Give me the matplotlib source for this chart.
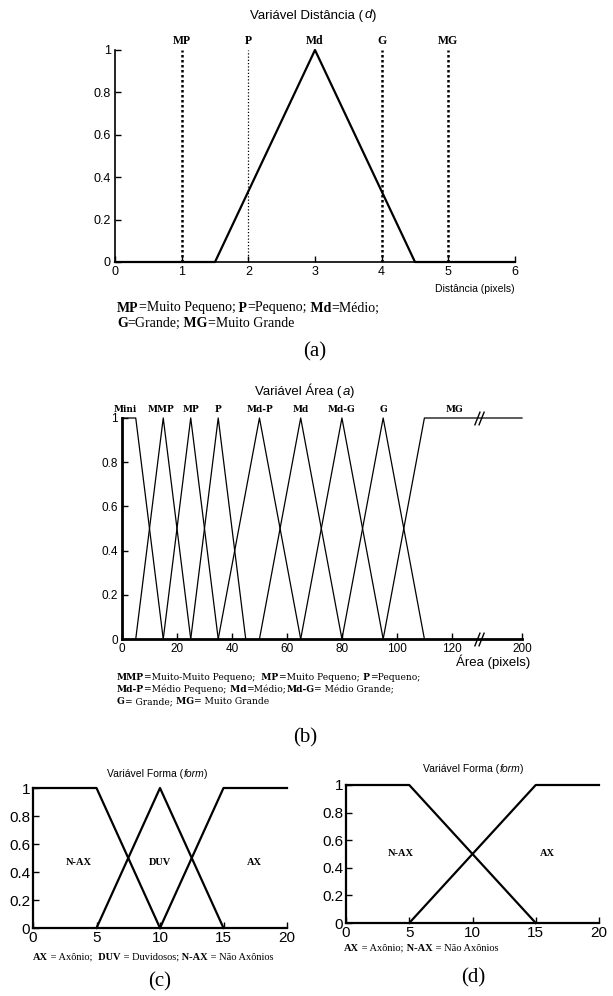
import numpy as np
import matplotlib
matplotlib.use('Agg')
import matplotlib.pyplot as plt
from matplotlib.path import Path
from matplotlib.font_manager import FontProperties, findfont
from matplotlib.ft2font import FT2Font

plt.rcParams['font.family'] = ['Liberation Sans', 'DejaVu Sans']

W, H = 613, 996

# (a) variavel distancia
dist_x = [0, 1.5, 3, 4.5, 6]
dist_mu = [0, 0, 1, 0, 0]
dist_nomes = ['MP', 'P', 'Md', 'G', 'MG']
dist_centros = [1, 2, 3, 4, 5]
dist_xticks = [0, 1, 2, 3, 4, 5, 6]

# (b) variavel area
area_nomes = ['Mini', 'MMP', 'MP', 'P', 'Md-P', 'Md', 'Md-G', 'G', 'MG']
area_x = [[0, 5, 15], [5, 15, 25], [15, 25, 35], [25, 35, 45], [35, 50, 65],
          [50, 65, 80], [65, 80, 95], [80, 95, 110], [95, 110, 200]]
area_mu = [[1, 1, 0], [0, 1, 0], [0, 1, 0], [0, 1, 0], [0, 1, 0],
           [0, 1, 0], [0, 1, 0], [0, 1, 0], [0, 1, 1]]
area_rotulo_x = [1, 14, 25, 35, 50, 65, 80, 95, 121]
area_xticks = [0, 20, 40, 60, 80, 100, 120, 200]
area_quebra = 130

# (c) forma com 3 conjuntos, (d) forma com 2 conjuntos
forma3_x = [[0, 5, 10], [5, 10, 15], [10, 15, 20]]
forma3_mu = [[1, 1, 0], [0, 1, 0], [0, 1, 1]]
forma3_nomes = ['N-AX', 'DUV', 'AX']
forma3_rotulo_x = [3.6, 10, 17.4]
forma2_x = [[0, 5, 15], [5, 15, 20]]
forma2_mu = [[1, 1, 0], [0, 1, 1]]
forma2_nomes = ['N-AX', 'AX']
forma2_rotulo_x = [4.3, 15.9]
forma_xticks = [0, 5, 10, 15, 20]

yticks = [0, 0.2, 0.4, 0.6, 0.8, 1]
ytick_labels = ['0', '0.2', '0.4', '0.6', '0.8', '1']


def fx(x):
    return x / W


def fy(y):
    return 1 - y / H


def eixo(fig, l, t, r, b):
    # cria eixos a partir de coordenadas em pixels (esq, topo, dir, base)
    ax = fig.add_axes([fx(l), fy(b), (r - l) / W, (b - t) / H])
    ax.spines['top'].set_visible(False)
    ax.spines['right'].set_visible(False)
    ax.tick_params(direction='in', length=4, width=1, pad=3)
    return ax


def avanco(txt, fp):
    # largura em pixels pelo avanco de cada glifo (inclui espacos)
    f = FT2Font(findfont(fp))
    f.set_size(fp.get_size_in_points(), 100)
    tot = 0.0
    for ch in txt:
        g = f.load_char(ord(ch))
        tot += g.linearHoriAdvance / 65536.0
    return tot


def linha(fig, x, y, partes, ha='left', **kw):
    # partes: lista de (texto, estilo); tudo na mesma linha de base
    ts, larg = [], []
    for txt, est in partes:
        opts = dict(kw)
        opts.update(est)
        t = fig.text(0, fy(y), txt, ha='left', va='baseline', **opts)
        ts.append(t)
        larg.append(avanco(txt, t.get_fontproperties()))
    x0 = x - (sum(larg) / 2 if ha == 'center' else 0)
    for t, w in zip(ts, larg):
        t.set_x(fx(x0))
        x0 += w


B = {'weight': 'bold'}
N = {}
I = {'style': 'italic'}

fig = plt.figure(figsize=(W / 100, H / 100), dpi=100)

# ---------------- (a)
ax = eixo(fig, 115, 50, 515, 262)
ax.plot(dist_x, dist_mu, color='k', lw=1.6, clip_on=False, zorder=3)
for nome, c in zip(dist_nomes, dist_centros):
    if nome == 'P':
        ax.plot([c, c], [0, 1], color='k', ls=(0, (1, 1.6)), lw=0.9)
    elif nome != 'Md':
        ax.plot([c, c], [0, 1], color='k', ls=(0, (1, 1)), lw=1.8)
    ax.annotate(nome, (c, 1), xytext=(0, 4), textcoords='offset points',
                ha='center', va='baseline', family='Liberation Serif',
                weight='bold', fontsize=8.5, annotation_clip=False)
ax.set_xlim(0, 6)
ax.set_ylim(0, 1)
ax.set_xticks(dist_xticks)
ax.set_yticks(yticks)
ax.set_yticklabels(ytick_labels)
ax.tick_params(labelsize=9)
for s in ax.spines.values():
    s.set_linewidth(1.2)
linha(fig, 313, 18.5, [('Variável Distância (', N), ('d', I), (')', N)], ha='center', fontsize=9.5)
fig.text(fx(515), fy(289), 'Distância (pixels)', fontsize=7.5, ha='right', va='center')

# ---------------- (b)
k = (145.5 - area_quebra) / (200 - area_quebra)


def fwd(x):
    x = np.asarray(x, float)
    return np.where(x <= area_quebra, x, area_quebra + (x - area_quebra) * k)


def inv(x):
    x = np.asarray(x, float)
    return np.where(x <= area_quebra, x, area_quebra + (x - area_quebra) / k)


axb = eixo(fig, 122, 418, 522, 639)
axb.set_xscale('function', functions=(fwd, inv))
for xs, ys in zip(area_x, area_mu):
    axb.plot(xs, ys, color='k', lw=0.9, clip_on=False)
for nome, xr in zip(area_nomes, area_rotulo_x):
    axb.annotate(nome, (xr, 1), xytext=(0, 4), textcoords='offset points',
                 ha='center', va='baseline', family='DejaVu Serif',
                 weight='bold', fontsize=6.5, annotation_clip=False)
barra = Path([(-0.7, -1), (0.1, 1), (-0.1, -1), (0.7, 1)],
             [Path.MOVETO, Path.LINETO, Path.MOVETO, Path.LINETO])
axb.plot([area_quebra, area_quebra], [0, 1], ls='none', marker=barra,
         ms=10, mew=1.0, mec='k', clip_on=False, zorder=5)
axb.set_xlim(0, 200)
axb.set_ylim(0, 1)
axb.set_xticks(area_xticks)
axb.set_xticklabels([str(v) for v in area_xticks])
axb.set_yticks(yticks)
axb.set_yticklabels(ytick_labels)
axb.tick_params(labelsize=8.5)
for s in axb.spines.values():
    s.set_linewidth(2)
linha(fig, 305, 394.5, [('Variável Área (', N), ('a', I), (')', N)], ha='center', fontsize=9.5)
fig.text(fx(530), fy(662), 'Área (pixels)', fontsize=9.5, ha='right', va='center')

# ---------------- (c)
axc = eixo(fig, 33, 788, 287, 928)
for xs, ys in zip(forma3_x, forma3_mu):
    axc.plot(xs, ys, color='k', lw=1.6, clip_on=False)
for nome, xr in zip(forma3_nomes, forma3_rotulo_x):
    axc.text(xr, 0.47, nome, ha='center', va='center', family='Liberation Serif',
             weight='bold', fontsize=7.5)

# ---------------- (d)
axd = eixo(fig, 346, 785, 599, 923)
for xs, ys in zip(forma2_x, forma2_mu):
    axd.plot(xs, ys, color='k', lw=1.6, clip_on=False)
for nome, xr in zip(forma2_nomes, forma2_rotulo_x):
    axd.text(xr, 0.5, nome, ha='center', va='center', family='Liberation Serif',
             weight='bold', fontsize=7.5)

for a in (axc, axd):
    a.set_xlim(0, 20)
    a.set_ylim(0, 1)
    a.set_xticks(forma_xticks)
    a.set_yticks(yticks)
    a.set_yticklabels(ytick_labels)
    a.tick_params(labelsize=11, pad=2)
    for s in a.spines.values():
        s.set_linewidth(1.6)

for cx, cy in ((157, 777), (473, 772)):
    linha(fig, cx, cy, [('Variável Forma (', N), ('form', I), (')', N)], ha='center', fontsize=7.5)

# legendas
serif_a = dict(family='Liberation Serif', fontsize=10)
linha(fig, 117, 311.5, [('MP', B), ('=Muito Pequeno;', N), (' P', B), ('=Pequeno;', N),
                        (' Md', B), ('=Médio;', N)], **serif_a)
linha(fig, 117, 326.5, [('G', B), ('=Grande;', N), (' MG', B), ('=Muito Grande', N)], **serif_a)

serif_b = dict(family='DejaVu Serif', fontsize=6.6)
linha(fig, 117, 680, [('MMP', B), ('=Muito-Muito Pequeno;', N), ('  MP', B),
                      ('=Muito Pequeno;', N), (' P', B), ('=Pequeno;', N)], **serif_b)
linha(fig, 117, 692, [('Md-P', B), ('=Médio Pequeno;', N), (' Md', B), ('=Médio;', N),
                      ('Md-G', B), ('= Médio Grande;', N)], **serif_b)
linha(fig, 117, 704, [('G', B), ('= Grande;', N), (' MG', B), ('= Muito Grande', N)], **serif_b)

serif_c = dict(family='Liberation Serif', fontsize=7.5)
linha(fig, 33, 960, [('AX', B), (' = Axônio;', N), ('  DUV', B), (' = Duvidosos;', N),
                     (' N-AX', B), (' = Não Axônios', N)], **serif_c)
linha(fig, 344, 951, [('AX', B), (' = Axônio;', N), (' N-AX', B), (' = Não Axônios', N)],
      **serif_c)

for rot, cx, cy in (('(a)', 315, 352), ('(b)', 305, 738), ('(c)', 160, 982), ('(d)', 473, 978)):
    fig.text(fx(cx), fy(cy), rot, fontsize=15, family='Liberation Serif', ha='center', va='center')

fig.savefig('out.png', dpi=100)
